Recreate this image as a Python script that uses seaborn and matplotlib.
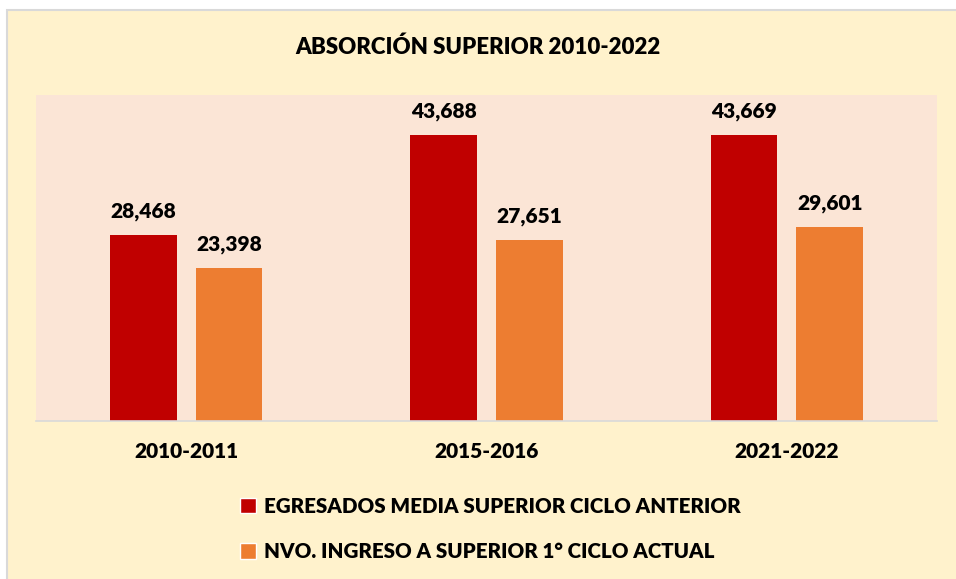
import seaborn as sns
import matplotlib.pyplot as plt
import pandas as pd
from matplotlib.patches import Rectangle, Patch

# datos
ciclos = ['2010-2011', '2015-2016', '2021-2022']
egresados = [28468, 43688, 43669]
nuevo_ingreso = [23398, 27651, 29601]
series = ['EGRESADOS MEDIA SUPERIOR CICLO ANTERIOR',
          'NVO. INGRESO A SUPERIOR 1° CICLO ACTUAL']
colores = ['#C00000', '#ED7D31']

df = pd.DataFrame({
    'ciclo': ciclos * 2,
    'valor': egresados + nuevo_ingreso,
    'serie': [series[0]] * 3 + [series[1]] * 3,
})

sns.set_theme(style='white')
plt.rcParams['font.family'] = ['Lato', 'DejaVu Sans']
plt.rcParams['text.color'] = 'black'
plt.rcParams['xtick.color'] = 'black'
peso = 'heavy'

fig = plt.figure(figsize=(9.56, 5.79), dpi=100)
fig.patch.set_facecolor('white')
# fondo del grafico
fig.patches.append(Rectangle((7 / 956, -0.01), 1.0, 1 - 10 / 579 + 0.01,
                             transform=fig.transFigure, facecolor='#FFF2CC',
                             edgecolor='#D9D9D9', linewidth=1.5, zorder=-5))

ax = fig.add_axes([36 / 956, (579 - 421) / 579, (937 - 36) / 956, (421 - 95) / 579])
ax.set_zorder(2)
ax.set_facecolor('#FBE5D6')
sns.barplot(data=df, x='ciclo', y='valor', hue='serie', palette=colores,
            width=0.57, gap=0.22, ax=ax, legend=False, saturation=1,
            linewidth=0)

for c in ax.containers:
    ax.bar_label(c, labels=[f'{v:,.0f}' for v in c.datavalues], padding=10,
                 fontsize=15, fontweight=peso, color='black')

ax.set_ylim(0, 49800)
ax.set_yticks([])
ax.set_xlabel('')
ax.set_ylabel('')
for s in ['top', 'left', 'right']:
    ax.spines[s].set_visible(False)
ax.spines['bottom'].set_color('#D9D9D9')
ax.spines['bottom'].set_linewidth(1.2)
ax.tick_params(axis='x', length=0, pad=15, labelsize=15)
for t in ax.get_xticklabels():
    t.set_fontweight(peso)

fig.text(0.5, 1 - 47 / 579, 'ABSORCIÓN SUPERIOR 2010-2022', ha='center',
         va='center', fontsize=16, fontweight=peso)

handles = [Patch(facecolor=colores[i], label=series[i]) for i in range(2)]
fig.legend(handles=handles, loc='center', bbox_to_anchor=(0.513, 1 - 529 / 579),
           ncol=1, frameon=False, prop={'size': 14.8, 'weight': peso},
           handlelength=0.8, handleheight=0.8, handletextpad=0.4, labelspacing=1.3)

fig.savefig('out.png', dpi=100)
